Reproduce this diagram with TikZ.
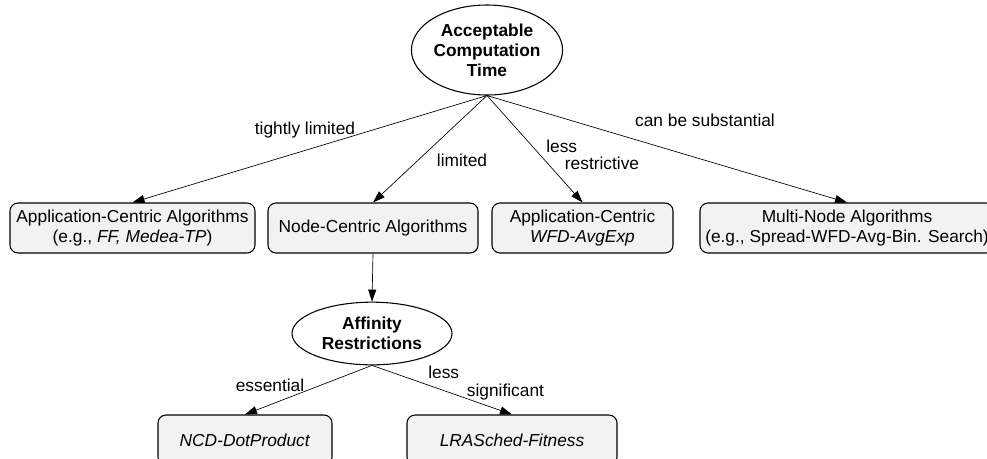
\documentclass[tikz,border=0pt]{standalone}
\usepackage{fontspec}
\setmainfont{Liberation Sans}
\usetikzlibrary{arrows.meta,shapes.geometric}

\begin{document}
\begin{tikzpicture}[
            x = .75pt, y = -.75pt,
            every node/.style={font=\fontsize{13}{15}\selectfont},
            topic/.style={ellipse, draw, line width=.8pt, align=center, inner sep=0pt,
                font=\fontsize{13}{15}\selectfont\bfseries},
            algo/.style={draw, rounded corners=6pt, fill=gray!10, line width=.8pt,
                minimum height=37.5pt, align=center},
            edgetext/.style={inner sep=0pt, align=left, font=\fontsize{13}{13}\selectfont},
            line/.style={line width=.5pt, -{Triangle[length=9pt, width=6pt]}},
            ]

        \useasboundingbox (0, 0) rectangle (987, 458);
        \clip (0, 0) rectangle (987, 458);

        \node[topic, minimum width=111pt, minimum height=67.5pt] (act) at (487, 50) {Acceptable\\Computation\\Time};

        \node[algo, minimum width=183.75pt] (app) at (132.5, 228) {Application-Centric Algorithms\\(e.g., \textit{FF, Medea-TP})};
        \node[algo, minimum width=157.5pt] (nc) at (373, 228) {Node-Centric Algorithms};
        \node[algo, minimum width=135.75pt] (wfd) at (582.5, 228) {Application-Centric\\\textit{WFD-AvgExp}};
        \node[algo, minimum width=220.5pt] (multi) at (847, 228) {Multi-Node Algorithms\\(e.g., Spread-WFD-Avg-Bin. Search)};

        \node[topic, minimum width=120pt, minimum height=47pt] (aff) at (372, 333.5) {Affinity\\Restrictions};

        \node[algo, minimum width=130.5pt] (ncd) at (245, 440) {\textit{NCD-DotProduct}};
        \node[algo, minimum width=157.5pt] (lra) at (512, 440) {\textit{LRASched-Fitness}};

        % labels of the edges
        \node[edgetext] (tl) at (305, 130) {tightly limited};
        \node[edgetext] (li) at (462, 160) {limited};
        \node[edgetext, anchor=west] (lr) at (546, 155) {less\\\hspace*{14pt}restrictive};
        \node[edgetext] (cs) at (705, 120) {can be substantial};
        \node[edgetext] (es) at (270, 385) {essential};
        \node[edgetext, anchor=west] (ls) at (428, 383) {less\\\hspace*{29pt}significant};

        \draw[line] (act.south) -- (app.north);
        \draw[line] (act.south) -- (nc.north);
        \draw[line] (act.south) -- (wfd.north);
        \draw[line] (act.south) -- (multi.north);
        \draw[line] (nc.south) -- (aff.north);
        \draw[line] (aff.south) -- (ncd.north);
        \draw[line] (aff.south) -- (lra.north);
    \end{tikzpicture}
\end{document}
